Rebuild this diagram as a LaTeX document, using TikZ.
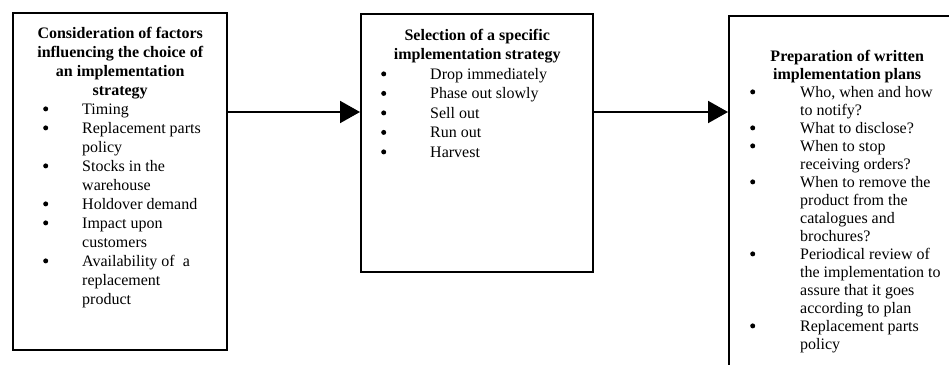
\documentclass[tikz,border=0pt]{standalone}
\usepackage{fontspec}
\setmainfont{Liberation Serif}
\usetikzlibrary{arrows.meta}

% distance from the bullet to the start of the item text
\newlength\bulletgap
\newcommand\bigdot{\tikz[baseline={(0pt,-5.3pt)}]\fill (0pt,0pt) circle[radius=2.5pt];}
\newcommand\bul{\par\noindent\llap{\makebox[\bulletgap][l]{\bigdot}}\ignorespaces}

\tikzset{
  panel/.style={draw=black, line width=2.4pt, inner sep=0pt, anchor=north west, fill=white},
  flow/.style={line width=2pt, -{Triangle[length=20pt,width=22pt]}}
}

\begin{document}
\begin{tikzpicture}[x=1pt,y=1pt]
\useasboundingbox (0,0) rectangle (949,-364);
\fill[white] (0,0) rectangle (949,-364);

% factors box
\node[panel] (factors) at (12,-12) {%
\begin{minipage}[t][337pt][t]{214pt}
\fontsize{16pt}{19pt}\selectfont
{\centering\bfseries\rule{0pt}{25pt}Consideration of factors\\influencing the choice of\\an implementation\\strategy\par}
\raggedright\leftskip=69pt \setlength\bulletgap{39pt}%
\bul Timing
\bul Replacement parts\\policy
\bul Stocks in the\\warehouse
\bul Holdover demand
\bul Impact upon\\customers
\bul Availability of\ \ a\\replacement\\product
\end{minipage}};

% strategy box
\node[panel] (select) at (360,-13) {%
\begin{minipage}[t][258pt][t]{232pt}
\fontsize{16pt}{19.5pt}\selectfont
{\centering\bfseries\rule{0pt}{26pt}Selection of a specific\\implementation strategy\par}
\raggedright\leftskip=69pt \setlength\bulletgap{49pt}%
\bul Drop immediately
\bul Phase out slowly
\bul Sell out
\bul Run out
\bul Harvest
\end{minipage}};

% written plans box
\node[panel] (plans) at (728,-15) {%
\begin{minipage}[t][370pt][t]{236pt}
\fontsize{16pt}{18pt}\selectfont
{\centering\bfseries\rule{0pt}{45pt}Preparation of written\\implementation plans\par}
\raggedright\leftskip=71pt \setlength\bulletgap{50pt}%
\bul Who, when and how\\to notify?
\bul What to disclose?
\bul When to stop\\receiving orders?
\bul When to remove the\\product from the\\catalogues and\\brochures?
\bul Periodical review of\\the implementation to\\assure that it goes\\according to plan
\bul Replacement parts\\policy
\end{minipage}};

% connectors
\coordinate (level) at (0,-112);
\draw[flow] (factors.east |- level) -- (select.west |- level);
\draw[flow] (select.east |- level) -- (plans.west |- level);
\end{tikzpicture}
\end{document}
